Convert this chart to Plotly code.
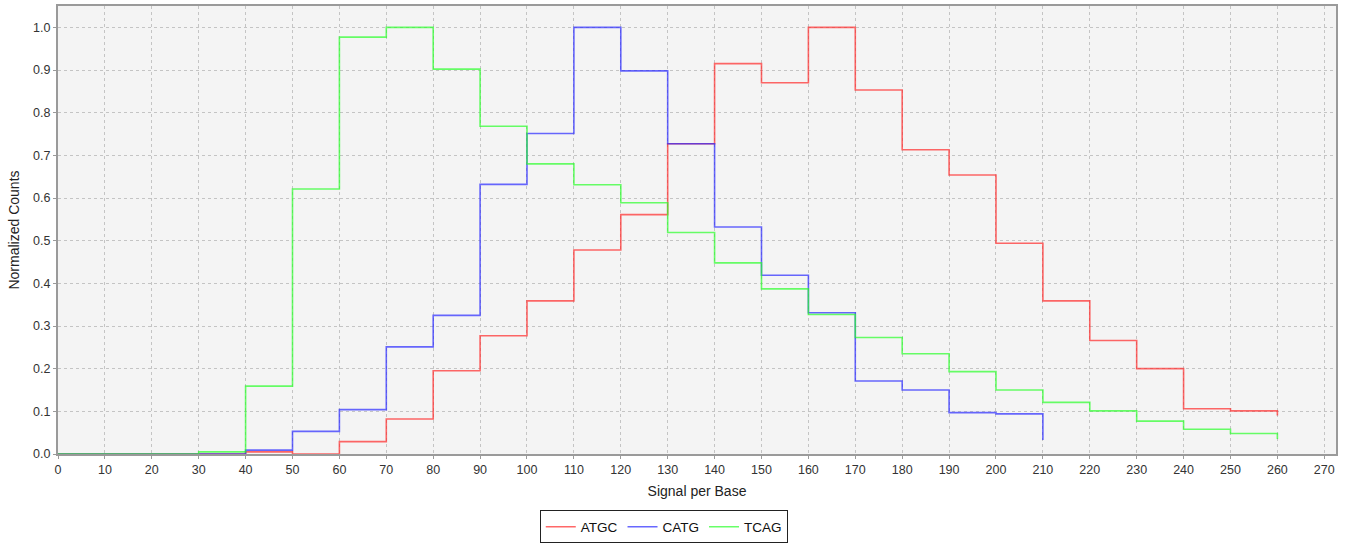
import plotly.graph_objects as go

# Bin starts (Signal per Base)
x_atgc = [0, 10, 20, 30, 40, 50, 60, 70, 80, 90, 100, 110, 120, 130, 140, 150, 160, 170, 180, 190, 200, 210, 220, 230, 240, 250, 260]
y_atgc = [0, 0, 0, 0, 0.005, 0, 0.029, 0.082, 0.195, 0.277, 0.359, 0.478, 0.561, 0.727, 0.915, 0.870, 1.0, 0.853, 0.713, 0.654, 0.494, 0.359, 0.266, 0.200, 0.106, 0.101, 0.090]

x_catg = [0, 10, 20, 30, 40, 50, 60, 70, 80, 90, 100, 110, 120, 130, 140, 150, 160, 170, 180, 190, 200, 210]
y_catg = [0, 0, 0, 0, 0.009, 0.053, 0.104, 0.251, 0.325, 0.632, 0.751, 1.0, 0.898, 0.727, 0.532, 0.419, 0.331, 0.171, 0.150, 0.097, 0.094, 0.033]

x_tcag = [0, 10, 20, 30, 40, 50, 60, 70, 80, 90, 100, 110, 120, 130, 140, 150, 160, 170, 180, 190, 200, 210, 220, 230, 240, 250, 260]
y_tcag = [0, 0, 0, 0.005, 0.159, 0.621, 0.977, 1.0, 0.902, 0.768, 0.680, 0.631, 0.589, 0.519, 0.448, 0.387, 0.327, 0.273, 0.235, 0.193, 0.150, 0.121, 0.101, 0.077, 0.058, 0.048, 0.035]

series = [
    ("ATGC", x_atgc, y_atgc, "rgba(255,40,40,0.7)"),
    ("CATG", x_catg, y_catg, "rgba(40,40,255,0.7)"),
    ("TCAG", x_tcag, y_tcag, "rgba(40,255,40,0.7)"),
]

x_ticks = list(range(0, 271, 10))
y_ticks = [0.0, 0.1, 0.2, 0.3, 0.4, 0.5, 0.6, 0.7, 0.8, 0.9, 1.0]

fig = go.Figure()
for name, xs, ys, col in series:
    fig.add_trace(go.Scatter(
        x=xs, y=ys, name=name, mode="lines",
        line=dict(color=col, width=1.6, shape="hv"),
    ))

font_family = "Liberation Sans, Arial, sans-serif"
fig.update_layout(
    width=1348, height=545,
    margin=dict(l=58, r=12, t=6, b=91, autoexpand=False),
    paper_bgcolor="white",
    plot_bgcolor="#f4f4f4",
    font=dict(family=font_family, size=12, color="#333333"),
    showlegend=True,
    legend=dict(
        orientation="h",
        x=0.474, xanchor="center",
        y=-0.126, yanchor="top",
        bordercolor="#222222", borderwidth=1,
        bgcolor="white",
        font=dict(size=13.5, color="#111111"),
        itemwidth=30,
        tracegroupgap=0,
    ),
    xaxis=dict(
        range=[0, 272.5],
        tickvals=x_ticks,
        ticktext=[str(v) for v in x_ticks],
        showgrid=True, gridcolor="#c4c4c4", griddash="dot", gridwidth=1,
        zeroline=False,
        showline=True, linecolor="#9a9a9a", linewidth=2, mirror=True,
        ticks="outside", ticklen=3, tickcolor="#9a9a9a",
        title=dict(text="Signal per Base", font=dict(size=14, color="#222222"), standoff=10),
        tickfont=dict(size=12.5, color="#333333"),
    ),
    yaxis=dict(
        range=[0, 1.05],
        tickvals=y_ticks,
        ticktext=[f"{v:.1f}" for v in y_ticks],
        showgrid=True, gridcolor="#c4c4c4", griddash="dot", gridwidth=1,
        zeroline=False,
        showline=True, linecolor="#9a9a9a", linewidth=2, mirror=True,
        ticks="outside", ticklen=3, tickcolor="#9a9a9a",
        title=dict(text="Normalized Counts", font=dict(size=14, color="#222222"), standoff=10),
        tickfont=dict(size=12.5, color="#333333"),
    ),
)

fig.write_html("out.html")
